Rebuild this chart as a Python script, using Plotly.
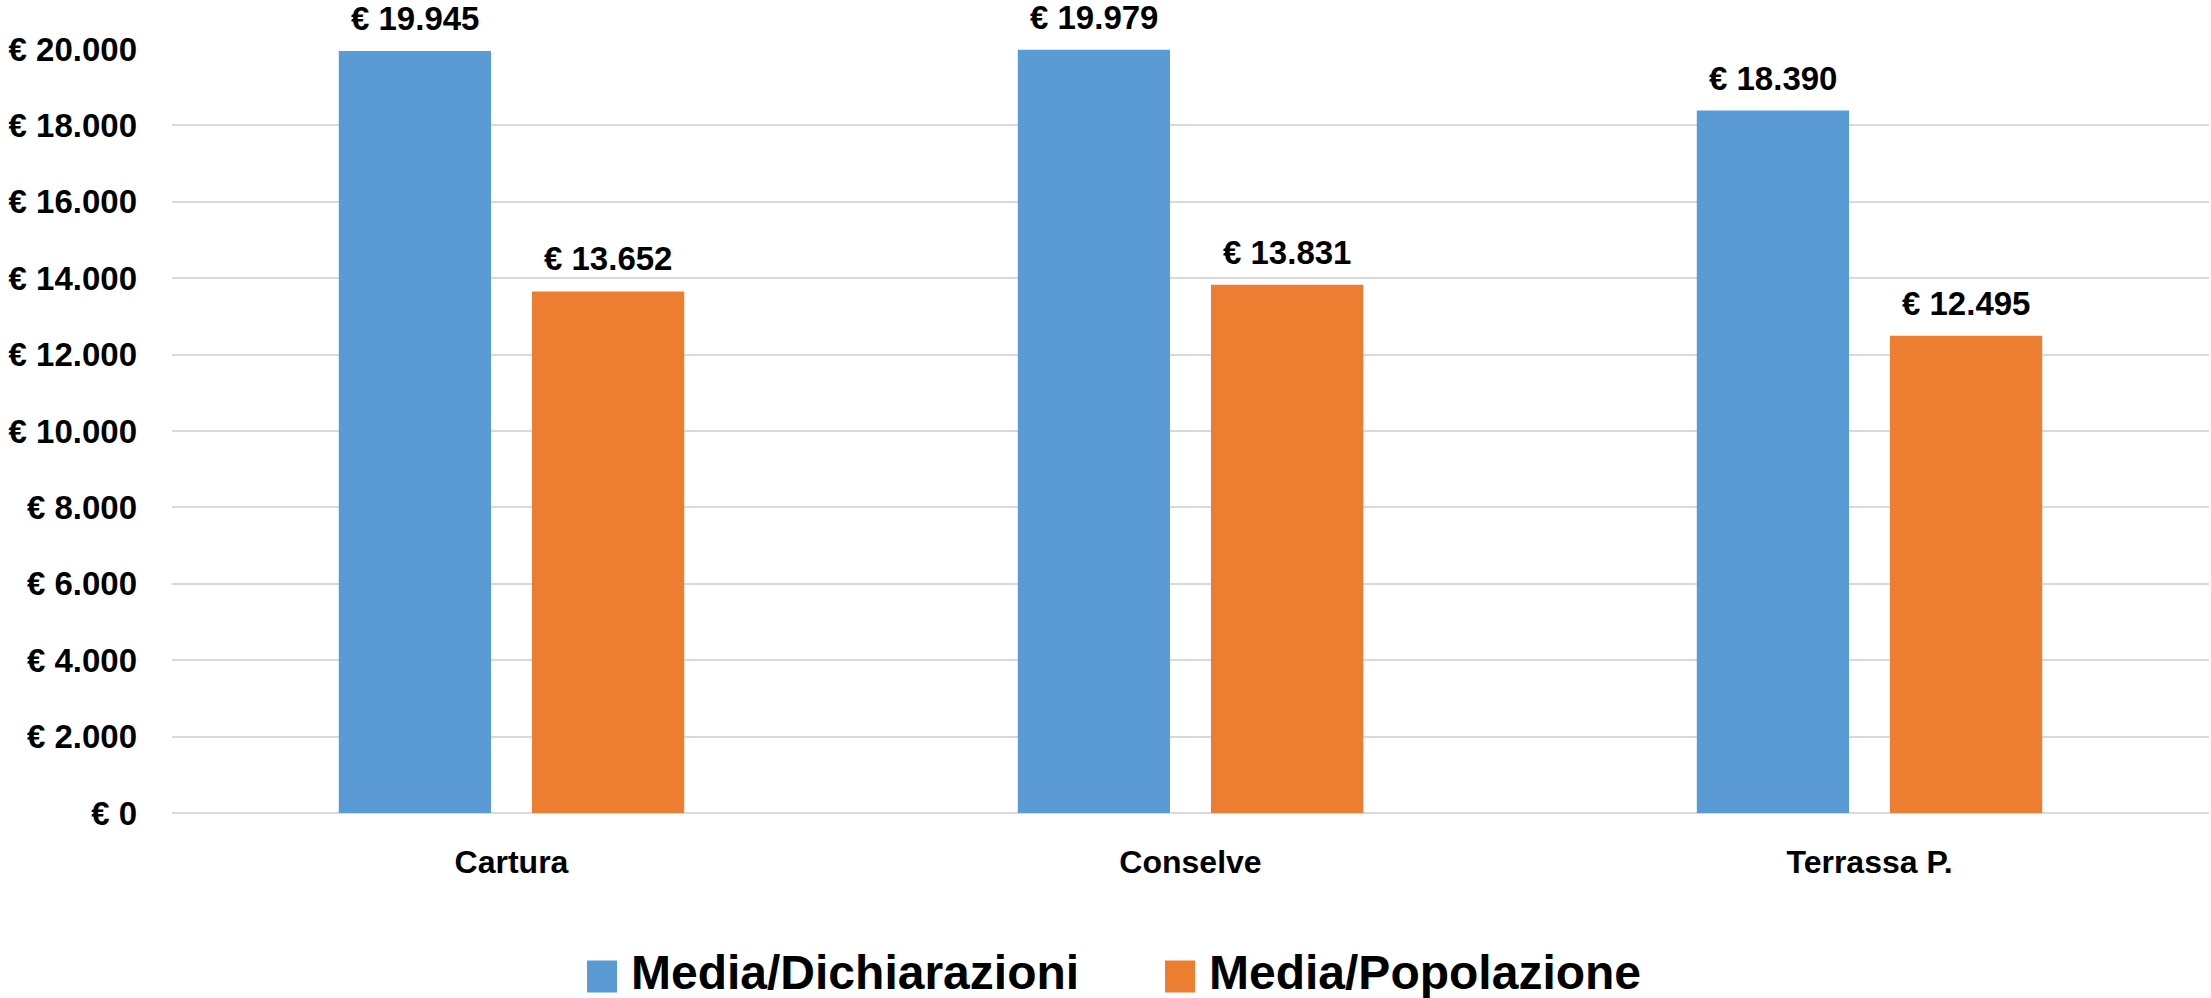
import plotly.graph_objects as go

categories = ["Cartura", "Conselve", "Terrassa P."]
media_dichiarazioni = [19945, 19979, 18390]
media_popolazione = [13652, 13831, 12495]
series_names = ["Media/Dichiarazioni", "Media/Popolazione"]
colors = ["#5B9BD5", "#ED7D31"]

W, H = 2211, 998
ML, MR, MT, MB = 172, 2, 49, 184.5
FONT = "Liberation Sans, Arial, sans-serif"
BARGAP, GROUPGAP = 0.431, 0.212

fig = go.Figure()
series = [media_dichiarazioni, media_popolazione]
slot = (1 - BARGAP) / len(series)
annotations = []
for k, (name, vals, col) in enumerate(zip(series_names, series, colors)):
    fig.add_trace(go.Bar(
        x=categories, y=vals, name=name, marker=dict(color=col, line=dict(width=0)),
        showlegend=False,
    ))
    off = (k - (len(series) - 1) / 2) * slot
    for i, v in enumerate(vals):
        annotations.append(dict(
            x=i + off, y=v, xref="x", yref="y", text="€ " + f"{v:,}".replace(",", "."),
            showarrow=False, xanchor="center", yanchor="bottom", yshift=12,
            font=dict(family=FONT, size=33, color="black", weight="bold")))

def px_x(p):
    return (p - ML) / (W - ML - MR)

def px_y(p):
    return (H - MB - p) / (H - MT - MB)

shapes = []
legend_items = [(587, 617, 630), (1165, 1195, 1208)]
for (x0, x1, tx), name, col in zip(legend_items, series_names, colors):
    shapes.append(dict(type="rect", xref="paper", yref="paper",
                       x0=px_x(x0), x1=px_x(x1), y0=px_y(993), y1=px_y(961),
                       fillcolor=col, line=dict(width=0)))
    annotations.append(dict(text=name, xref="paper", yref="paper",
                            x=px_x(tx), y=px_y(973), xanchor="left", yanchor="middle",
                            showarrow=False, borderpad=0,
                            font=dict(family=FONT, size=48, color="black", weight="bold")))

fig.update_layout(
    width=W, height=H,
    margin=dict(l=ML, r=MR, t=MT, b=MB),
    paper_bgcolor="white", plot_bgcolor="white",
    barmode="group", bargap=BARGAP, bargroupgap=GROUPGAP,
    separators=",.",
    shapes=shapes, annotations=annotations,
    showlegend=False,
)
fig.update_yaxes(
    range=[0, 20000], dtick=2000, tickprefix="€ ", tickformat=",",
    showgrid=True, gridcolor="#D9D9D9", gridwidth=2,
    zeroline=True, zerolinecolor="#D9D9D9", zerolinewidth=2,
    showline=False, ticks="", ticklabelstandoff=34,
    tickfont=dict(family=FONT, size=33, color="black", weight="bold"),
)
fig.update_xaxes(
    showline=False, ticks="", ticklabelstandoff=27,
    tickfont=dict(family=FONT, size=32, color="black", weight="bold"),
)

fig.write_html("out.html", config={"displayModeBar": False},
               post_script="document.body.style.margin='0';document.body.style.overflow='hidden';")
